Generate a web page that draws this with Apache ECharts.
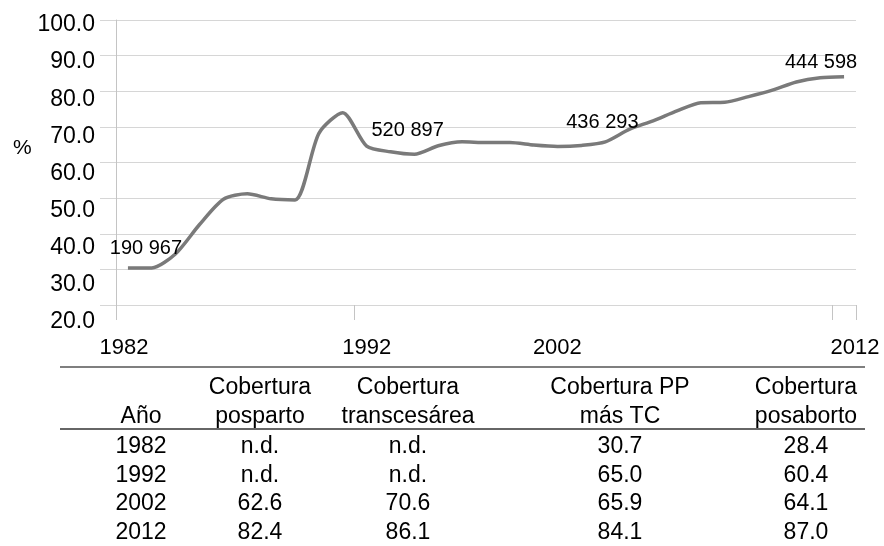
<!DOCTYPE html>
<html>
<head>
<meta charset="utf-8">
<script src="https://cdn.jsdelivr.net/npm/echarts@6/dist/echarts.min.js"></script>
<style>
html,body{margin:0;padding:0;background:#fff;}
#chart{width:884px;height:546px;}
</style>
</head>
<body>
<div id="chart"></div>
<script>
// anos del eje x
var years = ['1982','1983','1984','1985','1986','1987','1988','1989','1990','1991',
             '1992','1993','1994','1995','1996','1997','1998','1999','2000','2001',
             '2002','2003','2004','2005','2006','2007','2008','2009','2010','2011','2012'];
// cobertura (%)
var coverage = [30.4, 30.4, 34.4, 42.6, 49.7, 51.2, 49.8, 49.5, 68.2, 74.0,
                64.6, 63.0, 62.3, 64.7, 65.8, 65.6, 65.6, 64.9, 64.5, 64.8,
                65.8, 69.3, 71.7, 74.5, 76.8, 76.9, 78.5, 80.3, 82.6, 83.8, 84.1];
// etiquetas (numero de eventos) sobre la curva
var labelYears = ['1982','1992','2002','2012'];
var labelTexts = ['190 967','520 897','436 293','444 598'];
// eje x: anos rotulados
var tickYears = ['1982','1992','2002','2012'];

// tabla
var tableHeaders = ['Año','Cobertura\nposparto','Cobertura\ntranscesárea','Cobertura PP\nmás TC','Cobertura\nposaborto'];
var tableYears = ['1982','1992','2002','2012'];
var posparto = ['n.d.','n.d.','62.6','82.4'];
var transcesarea = ['n.d.','n.d.','70.6','86.1'];
var ppMasTc = ['30.7','65.0','65.9','84.1'];
var posaborto = ['28.4','60.4','64.1','87.0'];

var FONT = '"Liberation Sans", Arial, Helvetica, sans-serif';
var gridColor = '#d6d6d6';

var myChart = echarts.init(document.getElementById('chart'));

// desplazamientos de las etiquetas de datos (estilo)
var labelOffsets = [[18,-4],[41,-1],[-3,-4],[-23,1]];
var seriesData = [];
for (var i = 0; i < years.length; i++) {
    var k = labelYears.indexOf(years[i]);
    if (k < 0) {
        seriesData.push(coverage[i]);
    } else {
        seriesData.push({
            value: coverage[i],
            label: {show: true, formatter: labelTexts[k], offset: labelOffsets[k]}
        });
    }
}

// corrimiento horizontal de los rotulos del eje x (estilo)
var xShift = {'1982': -4, '1992': 0, '2002': -48, '2012': 11};
var xRich = {};
tickYears.forEach(function (y) {
    var s = xShift[y];
    xRich['y' + y] = {
        fontSize: 22, fontFamily: FONT, color: '#000',
        padding: s < 0 ? [0, -2 * s, 0, 0] : [0, 0, 0, 2 * s]
    };
});

// tabla como graficos de texto
var colX = [141, 260, 408, 620, 806];
var rowY0 = 447, rowStep = 28.5;
var tableCols = [tableYears, posparto, transcesarea, ppMasTc, posaborto];
var graphics = [
    {type: 'text', left: 13, top: 138, style: {text: '%', fontSize: 21, fontFamily: FONT, fill: '#000'}},
    {type: 'line', shape: {x1: 60, y1: 367, x2: 865, y2: 367}, style: {stroke: '#555', lineWidth: 1.5}},
    {type: 'line', shape: {x1: 60, y1: 429, x2: 865, y2: 429}, style: {stroke: '#666', lineWidth: 2}}
];
tableHeaders.forEach(function (h, c) {
    graphics.push({
        type: 'text', x: colX[c], y: 431,
        style: {text: h, fontSize: 23, fontFamily: FONT, fill: '#000', align: 'center', verticalAlign: 'bottom', lineHeight: 29}
    });
});
tableCols.forEach(function (col, c) {
    col.forEach(function (txt, r) {
        graphics.push({
            type: 'text', x: colX[c], y: rowY0 + r * rowStep,
            style: {text: txt, fontSize: 23, fontFamily: FONT, fill: '#000', align: 'center', verticalAlign: 'middle'}
        });
    });
});

var option = {
    animation: false,
    backgroundColor: '#fff',
    textStyle: {fontFamily: FONT},
    grid: [
        {left: 116, right: 28, top: 20, bottom: 241},
        {left: 116, right: 28, top: 25, bottom: 224}
    ],
    xAxis: [{
        type: 'category',
        gridIndex: 0,
        data: years,
        boundaryGap: true,
        axisLine: {show: false},
        axisTick: {
            show: true, length: 15, alignWithLabel: false,
            interval: function (idx) { return idx === 0 || idx === 10 || idx === 30; },
            lineStyle: {color: '#c4c4c4'}
        },
        axisLabel: {
            interval: function (idx, val) { return tickYears.indexOf(val) >= 0; },
            margin: 32,
            formatter: function (val) { return '{y' + val + '|' + val + '}'; },
            rich: xRich
        },
        splitLine: {show: false}
    }, {
        type: 'value', gridIndex: 1, show: false, min: 0, max: 1
    }],
    yAxis: [{
        type: 'value',
        gridIndex: 0,
        min: 20, max: 100, interval: 10,
        axisLine: {show: true, lineStyle: {color: '#c4c4c4'}},
        axisTick: {show: true, length: 16, lineStyle: {color: gridColor}},
        axisLabel: {show: false},
        splitLine: {show: true, lineStyle: {color: gridColor, width: 1}}
    }, {
        // rotulos del eje y (espaciado propio del original)
        type: 'value',
        gridIndex: 1,
        min: 20, max: 100, interval: 10,
        axisLine: {show: false},
        axisTick: {show: false},
        splitLine: {show: false},
        axisLabel: {
            margin: 21, fontSize: 23, fontFamily: FONT, color: '#000',
            formatter: function (v) { return v.toFixed(1); }
        }
    }],
    series: [{
        type: 'line',
        xAxisIndex: 0, yAxisIndex: 0,
        data: seriesData,
        smooth: 0.25,
        symbol: 'circle',
        symbolSize: 0,
        showSymbol: true,
        itemStyle: {color: '#7a7a7a'},
        lineStyle: {color: '#7a7a7a', width: 3.5},
        label: {show: false, position: 'top', distance: 5, fontSize: 20, fontFamily: FONT, color: '#000'}
    }],
    graphic: graphics
};
myChart.setOption(option);
</script>
</body>
</html>
